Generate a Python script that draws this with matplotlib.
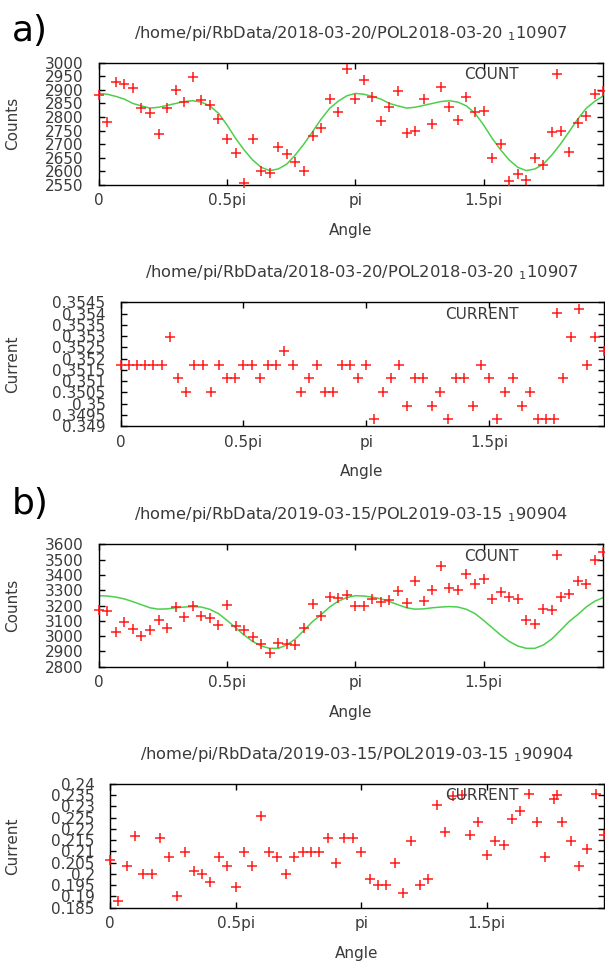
import numpy as np
import matplotlib.pyplot as plt
from matplotlib.transforms import blended_transform_factory

# measurement grid: one point every 6 degrees
angle_deg = list(range(0, 360, 6))

count_a = [2880, 2783, 2930, 2920, 2908, 2835, 2814, 2739, 2835, 2901,
           2857, 2946, 2862, 2843, 2793, 2721, 2668, 2559, 2721, 2602,
           2594, 2691, 2663, 2634, 2602, 2732, 2761, 2868, 2817, 2975,
           2868, 2937, 2875, 2786, 2838, 2897, 2743, 2750, 2866, 2776,
           2909, 2838, 2790, 2875, 2819, 2824, 2651, 2701, 2565, 2591,
           2570, 2651, 2623, 2746, 2749, 2673, 2777, 2805, 2884, 2897]
fit_a = [2887, 2884, 2876, 2866, 2850, 2841, 2833, 2836, 2843, 2850,
         2857, 2860, 2855, 2841, 2814, 2771, 2722, 2679, 2642, 2615,
         2603, 2609, 2627, 2661, 2701, 2746, 2792, 2832, 2858, 2878,
         2887, 2884, 2876, 2866, 2850, 2841, 2833, 2836, 2843, 2850,
         2857, 2860, 2855, 2841, 2814, 2771, 2722, 2679, 2642, 2615,
         2603, 2609, 2627, 2661, 2701, 2746, 2792, 2832, 2858, 2878]
current_a = [0.35172, 0.35172, 0.35172, 0.35172, 0.35172, 0.35172, 0.35295, 0.35116, 0.35054, 0.35172,
             0.35172, 0.35054, 0.35172, 0.35116, 0.35116, 0.35172, 0.35172, 0.35116, 0.35172, 0.35172,
             0.35236, 0.35172, 0.35054, 0.35116, 0.35172, 0.35054, 0.35054, 0.35172, 0.35172, 0.35116,
             0.35172, 0.34934, 0.35054, 0.35116, 0.35172, 0.34991, 0.35116, 0.35116, 0.34991, 0.35054,
             0.34934, 0.35116, 0.35116, 0.34991, 0.35172, 0.35116, 0.34934, 0.35054, 0.35116, 0.34991,
             0.35054, 0.34934, 0.34934, 0.34934, 0.35116, 0.35295, 0.35419, 0.35172, 0.35295, 0.35236]

count_b = [3171, 3164, 3027, 3094, 3047, 3001, 3042, 3105, 3053, 3193,
           3125, 3199, 3132, 3118, 3073, 3206, 3066, 3040, 2994, 2951,
           2892, 2955, 2946, 2942, 3053, 3212, 3129, 3257, 3247, 3267,
           3195, 3195, 3240, 3223, 3234, 3297, 3219, 3362, 3232, 3301,
           3456, 3312, 3304, 3404, 3343, 3376, 3245, 3291, 3258, 3243,
           3108, 3079, 3177, 3171, 3258, 3273, 3362, 3339, 3495, 3552]
fit_b = [3264, 3262, 3255, 3243, 3225, 3205, 3185, 3176, 3178, 3185,
         3190, 3193, 3190, 3175, 3147, 3103, 3055, 3007, 2965, 2935,
         2920, 2920, 2942, 2982, 3038, 3095, 3140, 3190, 3228, 3252,
         3264, 3262, 3255, 3243, 3225, 3205, 3185, 3176, 3178, 3185,
         3190, 3193, 3190, 3175, 3147, 3103, 3055, 3007, 2965, 2935,
         2920, 2920, 2942, 2982, 3038, 3095, 3140, 3190, 3228, 3252]
current_b = [0.2062, 0.1881, 0.2035, 0.2170, 0.1999, 0.1999, 0.2161, 0.2077, 0.1902, 0.2099,
             0.2014, 0.1999, 0.1964, 0.2077, 0.2035, 0.1943, 0.2099, 0.2035, 0.2259, 0.2099,
             0.2077, 0.1999, 0.2077, 0.2099, 0.2099, 0.2099, 0.2161, 0.2050, 0.2161, 0.2161,
             0.2099, 0.1977, 0.1950, 0.1950, 0.2050, 0.1916, 0.2148, 0.1950, 0.1977, 0.2305,
             0.2185, 0.2347, 0.2351, 0.2172, 0.2232, 0.2086, 0.2148, 0.2127, 0.2246, 0.2281,
             0.2354, 0.2232, 0.2077, 0.2332, 0.2232, 0.2148, 0.2037, 0.2111, 0.2354, 0.2172]

xtick_vals = [0, 0.5*np.pi, np.pi, 1.5*np.pi]
xtick_labels = ['0', '0.5pi', 'pi', '1.5pi']
yticks_count_a = [2550, 2600, 2650, 2700, 2750, 2800, 2850, 2900, 2950, 3000]
yticks_current_a = [0.349, 0.3495, 0.35, 0.3505, 0.351, 0.3515, 0.352, 0.3525, 0.353, 0.3535, 0.354, 0.3545]
yticks_count_b = [2800, 2900, 3000, 3100, 3200, 3300, 3400, 3500, 3600]
yticks_current_b = [0.185, 0.19, 0.195, 0.2, 0.205, 0.21, 0.215, 0.22, 0.225, 0.23, 0.235, 0.24]

title_a = '/home/pi/RbData/2018-03-20/POL2018-03-20 $_1$10907'
title_b = '/home/pi/RbData/2019-03-15/POL2019-03-15 $_1$90904'

W, H = 605, 967
TXT = '#3a3a3a'
plt.rcParams['font.family'] = 'DejaVu Sans'
plt.rcParams['mathtext.default'] = 'regular'

fig = plt.figure(figsize=(W / 100, H / 100), dpi=100)
angle = np.radians(angle_deg)


def panel(box, yvals, ylabel, key, title, yticks, fit=None):
    left, top, right, bottom = box
    ax = fig.add_axes([left / W, 1 - bottom / H, (right - left) / W, (bottom - top) / H])
    pts, = ax.plot(angle, yvals, ls='none', marker='+', ms=7.5, mew=1.1,
                   color='#ff1a1a', clip_on=False, zorder=3)
    if fit is not None:
        ax.plot(angle, fit, color='#4ccf4c', lw=1.1, zorder=2)

    ax.set_xlim(0, angle[-1])
    ax.set_ylim(yticks[0], yticks[-1])
    ax.set_xticks(xtick_vals, xtick_labels)
    ax.set_yticks(yticks, ['%g' % v for v in yticks])
    ax.tick_params(direction='in', length=4, width=1, top=True, right=True,
                   labelsize=11, labelcolor=TXT)
    ax.tick_params(axis='y', pad=11)
    ax.tick_params(axis='x', pad=6)
    for s in ax.spines.values():
        s.set_linewidth(1)

    ax.set_ylabel(ylabel, fontsize=11, color=TXT)
    ax.yaxis.set_label_coords(20 / W, 0.5, transform=blended_transform_factory(fig.transFigure, ax.transAxes))
    ax.set_xlabel('Angle', fontsize=11, color=TXT)
    ax.xaxis.set_label_coords(0.5, 1 - (bottom + 38) / H, transform=blended_transform_factory(ax.transAxes, fig.transFigure))

    ax.text(0.5, 1 - (top - 25) / H, title, transform=blended_transform_factory(ax.transAxes, fig.transFigure),
            ha='center', va='baseline', fontsize=11.7, color=TXT)

    ax.legend([pts], [key], loc='center right', bbox_to_anchor=(577 / W, 1 - (top + 12) / H),
              bbox_transform=fig.transFigure, frameon=False, markerfirst=False,
              handlelength=2.6, handletextpad=1.2, borderpad=0, borderaxespad=0,
              fontsize=11, labelcolor=TXT)
    return ax


panel((98.7, 62.7, 603.3, 185), count_a, 'Counts', 'COUNT', title_a, yticks_count_a, fit_a)
panel((120.7, 302.3, 603.5, 426.2), current_a, 'Current', 'CURRENT', title_a, yticks_current_a)
panel((98.7, 544.3, 603.3, 666.7), count_b, 'Counts', 'COUNT', title_b, yticks_count_b, fit_b)
panel((110, 784, 604, 907.7), current_b, 'Current', 'CURRENT', title_b, yticks_current_b)

fig.text(12 / W, 1 - 41 / H, 'a)', fontsize=26, va='baseline', ha='left')
fig.text(12 / W, 1 - 514 / H, 'b)', fontsize=26, va='baseline', ha='left')

fig.savefig('out.png', dpi=100)
